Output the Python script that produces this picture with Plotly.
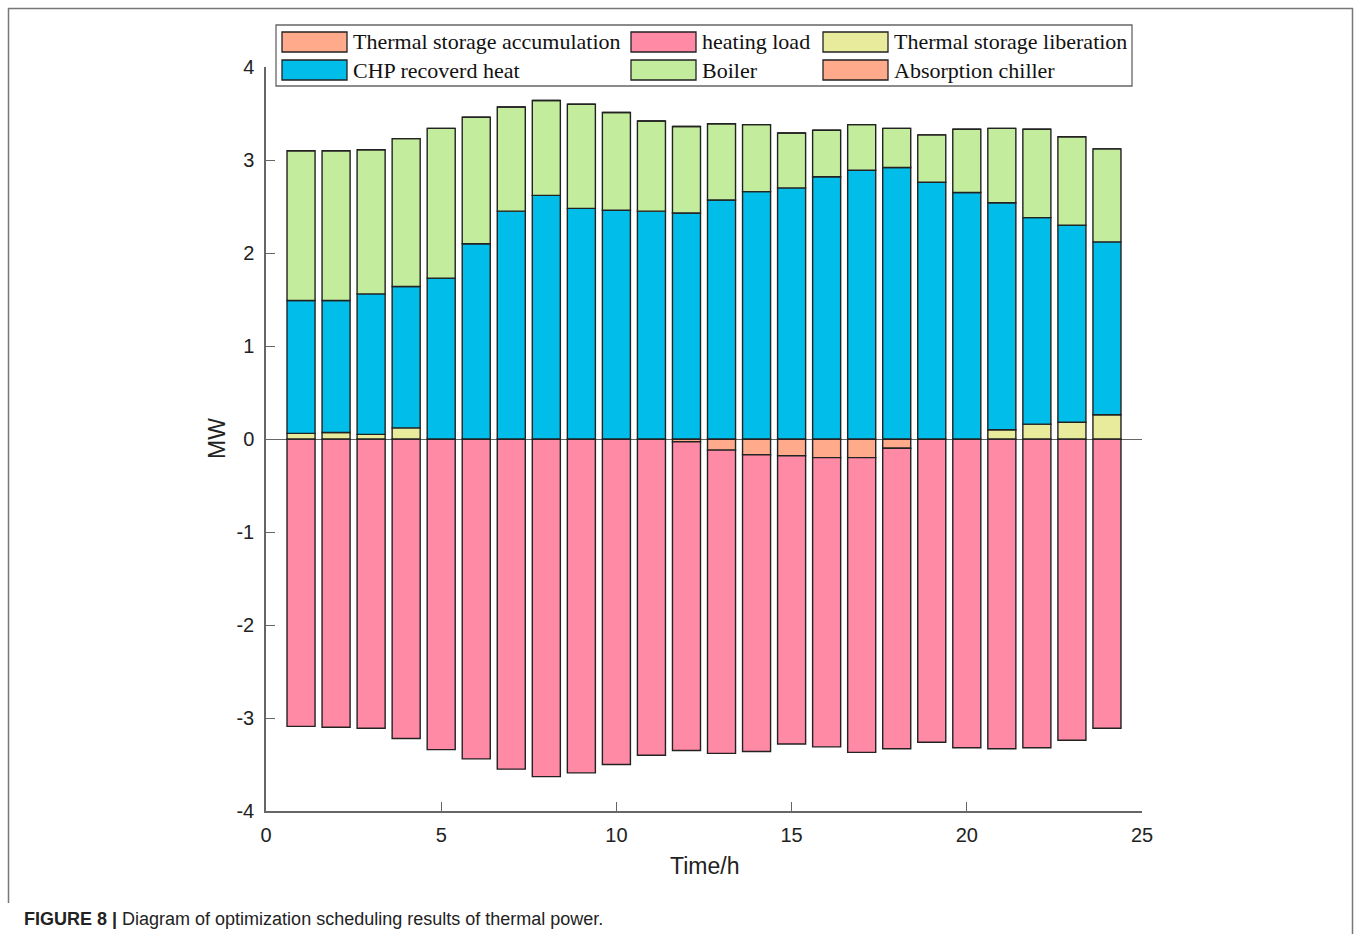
import plotly.graph_objects as go

# Hourly thermal power balance (MW), hours 1..24
hours = list(range(1, 25))

storage_accumulation = [0, 0, 0, 0, 0, 0, 0, 0, 0, 0, 0, -0.03,
                        -0.12, -0.17, -0.18, -0.20, -0.20, -0.10, 0, 0, 0, 0, 0, 0]
heating_load = [-3.09, -3.10, -3.11, -3.22, -3.34, -3.44, -3.55, -3.63, -3.59, -3.50, -3.40, -3.32,
                -3.26, -3.19, -3.10, -3.11, -3.17, -3.23, -3.26, -3.32, -3.33, -3.32, -3.24, -3.11]
storage_liberation = [0.06, 0.07, 0.05, 0.12, 0, 0, 0, 0, 0, 0, 0, 0,
                      0, 0, 0, 0, 0, 0, 0, 0, 0.10, 0.16, 0.18, 0.26]
chp_heat = [1.43, 1.42, 1.51, 1.52, 1.73, 2.10, 2.45, 2.62, 2.48, 2.46, 2.45, 2.43,
            2.57, 2.66, 2.70, 2.82, 2.89, 2.92, 2.76, 2.65, 2.44, 2.22, 2.12, 1.86]
boiler = [1.61, 1.61, 1.55, 1.59, 1.61, 1.36, 1.12, 1.02, 1.12, 1.05, 0.97, 0.93,
          0.82, 0.72, 0.59, 0.50, 0.49, 0.42, 0.51, 0.68, 0.80, 0.95, 0.95, 1.00]
absorption_chiller = [0] * 24

series_names = ["Thermal storage accumulation", "heating load", "Thermal storage liberation",
                "CHP recoverd heat", "Boiler", "Absorption chiller"]
series_values = [storage_accumulation, heating_load, storage_liberation,
                 chp_heat, boiler, absorption_chiller]
series_colors = ["#FFAA8A", "#FF8AA6", "#E8EB9B", "#00BDEA", "#C3EC9C", "#FFAA8A"]

# axis ticks
x_ticks = [0, 5, 10, 15, 20, 25]
y_ticks = [-4, -3, -2, -1, 0, 1, 2, 3, 4]
y_tick_labels = ["-4", "-3", "-2", "-1", "0", "1", "2", "3", "4"]

# plot area in pixels
L, R, T, B = 266, 1142, 67, 811
W, H = 1354, 934


def px(x):
    return (x - L) / (R - L)


def py(y):
    return (B - y) / (B - T)


fig = go.Figure()
for name, vals, col in zip(series_names, series_values, series_colors):
    fig.add_trace(go.Bar(
        x=hours, y=vals, name=name, width=0.8,
        marker=dict(color=col, line=dict(color="#222222", width=1.4)),
        showlegend=False,
    ))

shapes = []
annotations = []

# outer frame
frame_col = "#777777"
shapes.append(dict(type="line", xref="paper", yref="paper", x0=px(8), x1=px(1353),
                   y0=py(8.5), y1=py(8.5), line=dict(color=frame_col, width=1.5)))
shapes.append(dict(type="line", xref="paper", yref="paper", x0=px(8.5), x1=px(8.5),
                   y0=py(8), y1=py(903), line=dict(color=frame_col, width=1.5)))
shapes.append(dict(type="line", xref="paper", yref="paper", x0=px(1352.5), x1=px(1352.5),
                   y0=py(8), y1=py(934), line=dict(color=frame_col, width=1.5)))

# legend box
shapes.append(dict(type="rect", xref="paper", yref="paper", x0=px(276), x1=px(1132),
                   y0=py(86), y1=py(25), line=dict(color="#666666", width=1.3),
                   fillcolor="white"))
col_x = [282, 631, 823]
row_y = [42, 70]
for i, (name, col) in enumerate(zip(series_names, series_colors)):
    r, c = divmod(i, 3)
    x0 = col_x[c]
    yc = row_y[r]
    shapes.append(dict(type="rect", xref="paper", yref="paper", x0=px(x0), x1=px(x0 + 65),
                       y0=py(yc + 10), y1=py(yc - 10), fillcolor=col,
                       line=dict(color="#222222", width=1.3)))
    annotations.append(dict(xref="paper", yref="paper", x=px(x0 + 69), y=py(yc),
                            xanchor="left", yanchor="middle", text=name, showarrow=False,
                            font=dict(family="Liberation Serif, Times New Roman, serif",
                                      size=22, color="#111111")))

# axis titles
annotations.append(dict(xref="paper", yref="paper", x=px(704), y=py(866), text="Time/h",
                        showarrow=False, xanchor="center", yanchor="middle",
                        font=dict(family="Liberation Sans, Arial, sans-serif", size=23,
                                  color="#222222")))
annotations.append(dict(xref="paper", yref="paper", x=px(217), y=py(439), text="MW",
                        showarrow=False, xanchor="center", yanchor="middle", textangle=-90,
                        font=dict(family="Liberation Sans, Arial, sans-serif", size=23,
                                  color="#222222")))

# caption
annotations.append(dict(xref="paper", yref="paper", x=px(22), y=py(919),
                        text="<b>FIGURE 8 |</b> Diagram of optimization scheduling results of thermal power.",
                        showarrow=False, xanchor="left", yanchor="middle",
                        font=dict(family="Liberation Sans, Arial, sans-serif", size=18,
                                  color="#222222")))

axis_font = dict(family="Liberation Sans, Arial, sans-serif", size=20, color="#222222")
fig.update_layout(
    width=W, height=H,
    margin=dict(l=L, r=W - R, t=T, b=H - B, pad=0),
    barmode="relative",
    bargap=0.2,
    plot_bgcolor="white",
    paper_bgcolor="white",
    shapes=shapes,
    annotations=annotations,
    xaxis=dict(range=[0, 25], tickvals=x_ticks, ticks="inside", ticklen=9, tickwidth=1.4,
               tickcolor="#666666", showline=True, linecolor="#666666", linewidth=1.5,
               showgrid=False, zeroline=False, tickfont=axis_font, ticklabelstandoff=5),
    yaxis=dict(range=[-4, 4], tickvals=y_ticks, ticktext=y_tick_labels, ticks="inside",
               ticklen=9, tickwidth=1.4,
               tickcolor="#666666", showline=True, linecolor="#666666", linewidth=1.5,
               showgrid=False, zeroline=True, zerolinecolor="#666666", zerolinewidth=1.3,
               tickfont=axis_font, ticklabelstandoff=6),
)

fig.write_html("out.html")
